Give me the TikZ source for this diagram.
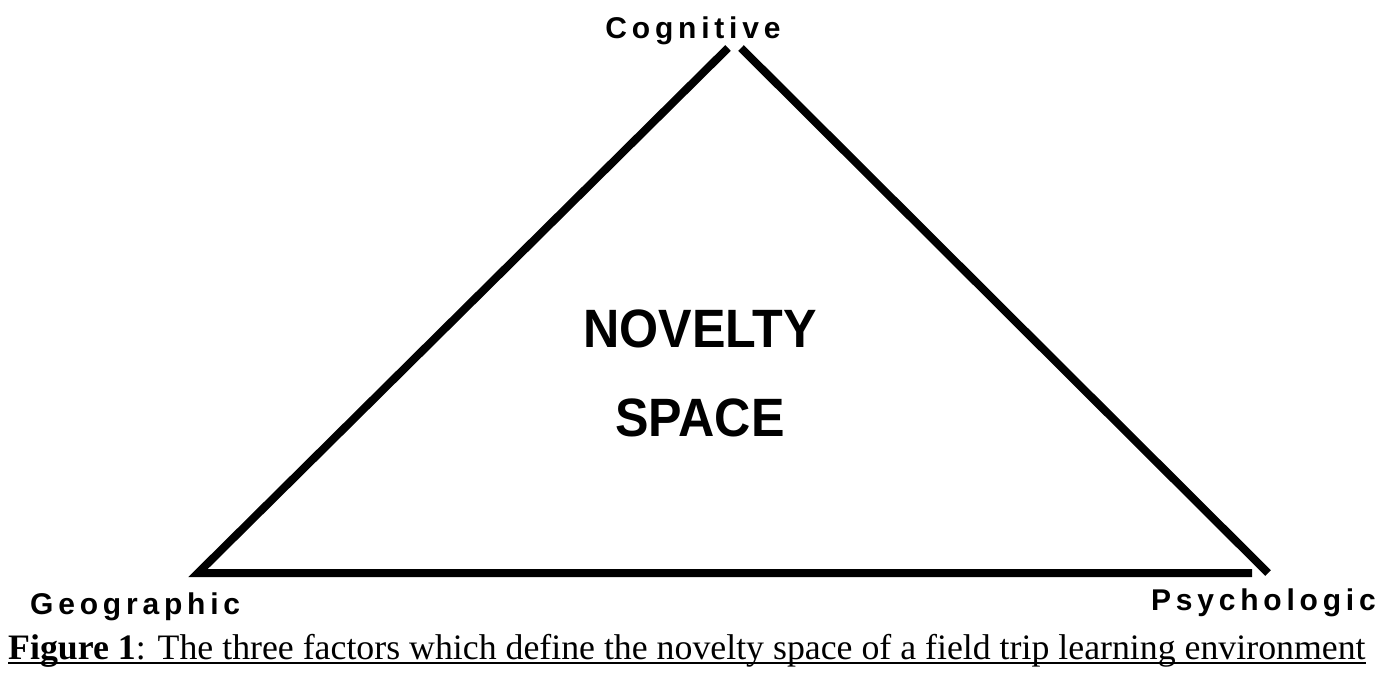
\documentclass[tikz,border=0pt]{standalone}
\usepackage{fontspec}
\setmainfont{Liberation Serif}
\newfontfamily\labfont[LetterSpace=16]{Liberation Sans}
\newfontfamily\bigfont{Liberation Sans}
\begin{document}
\begin{tikzpicture}[x=1pt,y=-1pt,
  edge/.style={line width=8pt,line join=miter},
  corner/.style={font=\labfont\bfseries\fontsize{30}{30}\selectfont,inner sep=0pt},
  mid/.style={font=\bigfont\bfseries\fontsize{54}{54}\selectfont,inner sep=0pt,xscale=0.93}]
\useasboundingbox (0,0) rectangle (1388,676);
\fill[white] (0,0) rectangle (1388,676);
\coordinate (apexL) at (728,48);
\coordinate (apexR) at (741,48);
\coordinate (geo) at (198,573);
\coordinate (botR) at (1252,573);
\coordinate (psy) at (1268,573);
\draw[edge] (apexL) -- (geo) -- (botR);
\draw[edge] (apexR) -- (psy);
\node[corner,anchor=base] (cog) at (693,39) {Cognitive};
\node[corner,anchor=base west] (geolab) at (30,614) {Geographic};
\node[corner,anchor=base east] (psylab) at (1376,610) {Psychologic};
\node[mid,anchor=base] (nov) at (700,347) {NOVELTY};
\node[mid,anchor=base] (spa) at (700,436) {SPACE};
\node[anchor=base west,inner sep=0pt,font=\fontsize{35.8}{35.8}\selectfont] (cap) at (8,659)
  {\textbf{Figure 1}: The three factors which define the novelty space of a field trip learning environment};
\draw[line width=2.5pt] ([yshift=-4pt]cap.base west) -- ([yshift=-4pt]cap.base east);
\end{tikzpicture}
\end{document}
